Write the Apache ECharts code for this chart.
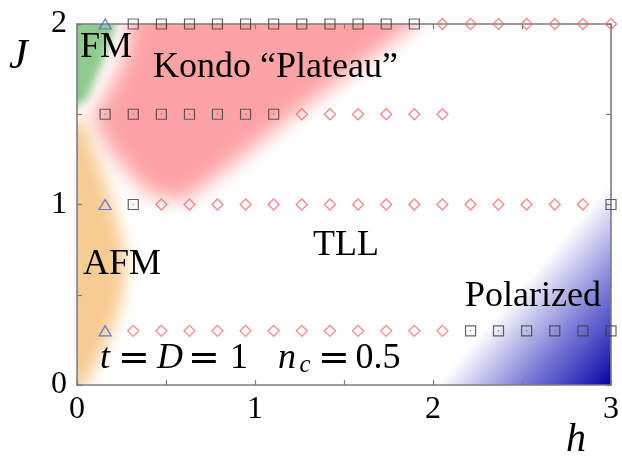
<!DOCTYPE html>
<html>
<head>
<meta charset="utf-8">
<script src="https://cdn.jsdelivr.net/npm/echarts@6/dist/echarts.min.js"></script>
<style>html,body{margin:0;padding:0;background:#fff;}#c{width:622px;height:458px;}</style>
</head>
<body>
<div id="c"></div>
<script>
// ---- data ----
const xTicks = [0, 1, 2, 3];
const yTicks = [0, 1, 2];
// triangles
const triangleH = [0.158, 0.158, 0.158];
const triangleJ = [2.0, 1.0, 0.3];
// squares, per row
const sqRow20 = [0.316, 0.474, 0.632, 0.789, 0.947, 1.105, 1.263, 1.421, 1.579, 1.737, 1.895];
const sqRow15 = [0.158, 0.316, 0.474, 0.632, 0.789, 0.947, 1.105];
const sqRow10 = [0.316, 3.0];
const sqRow03 = [2.211, 2.368, 2.526, 2.684, 2.842, 3.0];
// diamonds, per row
const dmRow20 = [2.053, 2.211, 2.368, 2.526, 2.684, 2.842, 3.0];
const dmRow15 = [1.263, 1.421, 1.579, 1.737, 1.895, 2.053];
const dmRow10 = [0.474, 0.632, 0.789, 0.947, 1.105, 1.263, 1.421, 1.579, 1.737, 1.895, 2.053, 2.211, 2.368, 2.526, 2.684, 2.842];
const dmRow03 = [0.316, 0.474, 0.632, 0.789, 0.947, 1.105, 1.263, 1.421, 1.579, 1.737, 1.895, 2.053];
// phase-region outlines (h, J)
const regionFM = [[-0.2,2.3],[0.24,2.3],[0.22,2.0],[0.15,1.8],[0.06,1.59],[0.0,1.54],[-0.2,1.54]];
const regionKondo = [[0.30,2.3],[2.1,2.3],[1.9,2.0],[1.22,1.5],[0.84,1.2],[0.6,1.02],[0.4,1.06],[0.22,1.25],[0.12,1.4],[0.09,1.5],[0.17,1.62],[0.27,1.82],[0.30,2.0]];
const regionAFM = [[-0.2,1.47],[0.03,1.47],[0.1,1.3],[0.17,1.1],[0.23,0.9],[0.28,0.7],[0.26,0.5],[0.2,0.3],[0.1,0.1],[0.04,0.0],[0.02,-0.2],[-0.2,-0.2]];
const regionPol = [[2.02,0],[3.0,1.12],[3.0,0]];

const rowPts = (hs, J) => hs.map(h => [h, J]);
const squares = [].concat(rowPts(sqRow20, 2.0), rowPts(sqRow15, 1.5), rowPts(sqRow10, 1.0), rowPts(sqRow03, 0.3));
const diamonds = [].concat(rowPts(dmRow20, 2.0), rowPts(dmRow15, 1.5), rowPts(dmRow10, 1.0), rowPts(dmRow03, 0.3));
const triangles = triangleH.map((h, i) => [h, triangleJ[i]]);

const blurRegions = [
  {pts: regionFM, color: '#8fcb8f', blur: 9},
  {pts: regionKondo, color: '#fda3a5', blur: 20},
  {pts: regionAFM, color: '#f7cc93', blur: 16}
];

const SERIF = 'Liberation Serif';
const AX = '#7d7d7d';
const OFF = 3000;

const chart = echarts.init(document.getElementById('c'), null, {renderer: 'canvas'});

function axisCommon(pos, showLabel, isX) {
  return {
    type: 'value', position: pos,
    min: 0, max: isX ? 3 : 2, interval: 0.5,
    z: 3,
    axisLine: {show: true, onZero: false, lineStyle: {color: AX, width: 1.6}},
    axisTick: {show: true, inside: true, length: 5, lineStyle: {color: AX, width: 1.2}},
    splitLine: {show: false},
    axisLabel: {
      show: showLabel,
      margin: isX ? 9 : 10,
      color: '#000', fontFamily: SERIF, fontSize: 32,
      formatter: v => ((isX ? xTicks : yTicks).indexOf(v) >= 0 ? String(v) : '')
    }
  };
}

const option = {
  animation: false,
  backgroundColor: '#fff',
  grid: {left: 77, right: 10, top: 24, bottom: 73, containLabel: false},
  xAxis: [axisCommon('bottom', true, true), axisCommon('top', false, true)],
  yAxis: [axisCommon('left', true, false), axisCommon('right', false, false)],
  series: [
    {
      type: 'custom', clip: true, z: 1, silent: true,
      data: blurRegions.map((r, i) => [i]),
      renderItem: function (params, api) {
        const r = blurRegions[params.dataIndex];
        const pts = r.pts.map(p => { const c = api.coord(p); return [c[0] - OFF, c[1]]; });
        return {
          type: 'polygon',
          shape: {points: pts},
          style: {fill: r.color, shadowBlur: r.blur, shadowColor: r.color, shadowOffsetX: OFF, shadowOffsetY: 0}
        };
      }
    },
    {
      type: 'custom', clip: true, z: 1, silent: true,
      data: [[0]],
      renderItem: function (params, api) {
        const pts = regionPol.map(p => api.coord(p));
        const a = pts[0], b = pts[1], c = pts[2];
        const dx = b[0] - a[0], dy = b[1] - a[1];
        const t = ((c[0] - a[0]) * dx + (c[1] - a[1]) * dy) / (dx * dx + dy * dy);
        const f = [a[0] + t * dx, a[1] + t * dy];
        return {
          type: 'polygon',
          shape: {points: pts},
          style: {
            fill: new echarts.graphic.LinearGradient(f[0], f[1], c[0], c[1], [
              {offset: 0, color: 'rgba(40,40,190,0)'},
              {offset: 0.5, color: 'rgba(40,40,190,0.62)'},
              {offset: 1, color: 'rgba(0,0,165,1)'}
            ], true)
          }
        };
      }
    },
    {
      type: 'scatter', z: 4, data: squares, symbol: 'rect', symbolSize: 10, silent: true,
      itemStyle: {color: 'rgba(0,0,0,0)', borderColor: '#3c3c3c', borderWidth: 1.2}
    },
    {
      type: 'scatter', z: 4, data: squares, symbol: 'circle', symbolSize: 1.6, silent: true,
      itemStyle: {color: '#777'}
    },
    {
      type: 'scatter', z: 4, data: diamonds, symbol: 'diamond', symbolSize: 11, silent: true,
      itemStyle: {color: 'rgba(0,0,0,0)', borderColor: '#f26a6a', borderWidth: 1.3}
    },
    {
      type: 'scatter', z: 4, data: triangles, symbol: 'triangle', symbolSize: [12, 10], silent: true,
      itemStyle: {color: 'rgba(0,0,0,0)', borderColor: '#4a62d8', borderWidth: 1.3}
    }
  ],
  graphic: [
    {type: 'text', z: 10, left: 9, top: 36, style: {text: 'J', font: 'italic 42px "Liberation Serif"', fill: '#000'}},
    {type: 'text', z: 10, left: 566, top: 420, style: {text: 'h', font: 'italic 40px "Liberation Serif"', fill: '#000'}},
    {type: 'text', z: 10, x: 80, y: 48, style: {text: 'FM', font: '36px "Liberation Serif"', fill: '#000', verticalAlign: 'middle'}},
    {type: 'text', z: 10, x: 153, y: 68, style: {text: 'Kondo \u201cPlateau\u201d', font: '36px "Liberation Serif"', fill: '#000', verticalAlign: 'middle'}},
    {type: 'text', z: 10, x: 313, y: 246, style: {text: 'TLL', font: '36px "Liberation Serif"', fill: '#000', verticalAlign: 'middle'}},
    {type: 'text', z: 10, x: 83, y: 265, style: {text: 'AFM', font: '36px "Liberation Serif"', fill: '#000', verticalAlign: 'middle'}},
    {type: 'text', z: 10, x: 465, y: 297, style: {text: 'Polarized', font: '36px "Liberation Serif"', fill: '#000', verticalAlign: 'middle'}},
    {type: 'text', z: 10, x: 105, y: 359, style: {text: 't', font: 'italic 36px "Liberation Serif"', fill: '#000', align: 'center', verticalAlign: 'middle'}},
    {type: 'text', z: 10, x: 134, y: 360, style: {text: '=', font: '38px "DejaVu Serif"', fill: '#000', align: 'center', verticalAlign: 'middle'}},
    {type: 'text', z: 10, x: 170, y: 359, style: {text: 'D', font: 'italic 36px "Liberation Serif"', fill: '#000', align: 'center', verticalAlign: 'middle'}},
    {type: 'text', z: 10, x: 204, y: 360, style: {text: '=', font: '38px "DejaVu Serif"', fill: '#000', align: 'center', verticalAlign: 'middle'}},
    {type: 'text', z: 10, x: 239, y: 359, style: {text: '1', font: '36px "Liberation Serif"', fill: '#000', align: 'center', verticalAlign: 'middle'}},
    {type: 'text', z: 10, x: 287, y: 359, style: {text: 'n', font: 'italic 36px "Liberation Serif"', fill: '#000', align: 'center', verticalAlign: 'middle'}},
    {type: 'text', z: 10, x: 305, y: 365, style: {text: 'c', font: 'italic 25px "Liberation Serif"', fill: '#000', align: 'center', verticalAlign: 'middle'}},
    {type: 'text', z: 10, x: 334, y: 360, style: {text: '=', font: '38px "DejaVu Serif"', fill: '#000', align: 'center', verticalAlign: 'middle'}},
    {type: 'text', z: 10, x: 378, y: 359, style: {text: '0.5', font: '36px "Liberation Serif"', fill: '#000', align: 'center', verticalAlign: 'middle'}}
  ]
};
chart.setOption(option);
</script>
</body>
</html>
